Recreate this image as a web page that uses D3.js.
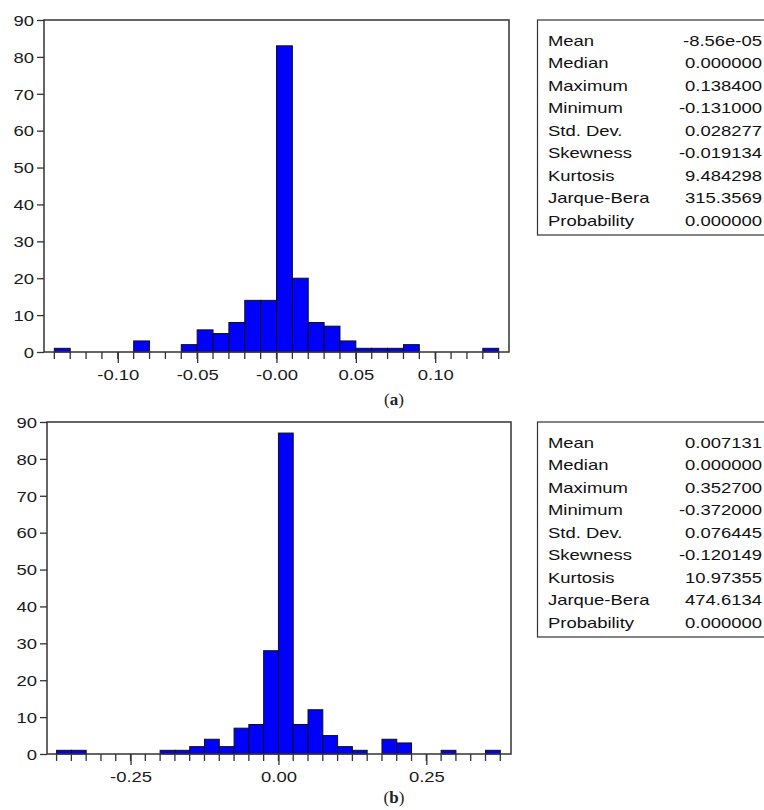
<!DOCTYPE html>
<html>
<head>
<meta charset="utf-8">
<script src="https://cdn.jsdelivr.net/npm/d3@7/dist/d3.min.js"></script>
<style>
  body { margin: 0; background: #fff; }
  svg { display: block; font-family: "Liberation Sans", Arial, sans-serif; }
</style>
</head>
<body>
<div id="chart"></div>
<script>
// histogram (a): bins of 0.01 starting at -0.14
var binStartA = -0.14, binWidthA = 0.01;
var countsA = [1, 0, 0, 0, 0, 3, 0, 0, 2, 6, 5, 8, 14, 14, 83, 20, 8, 7, 3, 1, 1, 1, 2, 0, 0, 0, 0, 1];
var tickValsA = [-0.10, -0.05, 0, 0.05, 0.10];
var tickLabelsA = ["-0.10", "-0.05", "-0.00", "0.05", "0.10"];

// histogram (b): bins of 0.025 starting at -0.375
var binStartB = -0.375, binWidthB = 0.025;
var countsB = [1, 1, 0, 0, 0, 0, 0, 1, 1, 2, 4, 2, 7, 8, 28, 87, 8, 12, 5, 2, 1, 0, 4, 3, 0, 0, 1, 0, 0, 1];
var tickValsB = [-0.25, 0, 0.25];
var tickLabelsB = ["-0.25", "0.00", "0.25"];

var yTicks = [0, 10, 20, 30, 40, 50, 60, 70, 80, 90];

var statLabels = ["Mean", "Median", "Maximum", "Minimum", "Std. Dev.", "Skewness", "Kurtosis", "Jarque-Bera", "Probability"];
var statsA = ["-8.56e-05", "0.000000", "0.138400", "-0.131000", "0.028277", "-0.019134", "9.484298", "315.3569", "0.000000"];
var statsB = ["0.007131", "0.000000", "0.352700", "-0.372000", "0.076445", "-0.120149", "10.97355", "474.6134", "0.000000"];

var SX = 1.23; // the original graph is stretched horizontally

var svg = d3.select("#chart").append("svg").attr("width", 764).attr("height", 810);

function histogram(cfg) {
  var x = d3.scaleLinear().domain(cfg.domain).range([cfg.left, cfg.right]);
  var y = d3.scaleLinear().domain([0, 90]).range([cfg.bottom, cfg.top]);
  var g = svg.append("g");

  var bins = cfg.counts.map(function(c, i) {
    return { x0: cfg.start + i * cfg.width, x1: cfg.start + (i + 1) * cfg.width, n: c };
  }).filter(function(d) { return d.n > 0; });

  g.selectAll("rect.bar").data(bins).enter().append("rect")
    .attr("class", "bar")
    .attr("x", function(d) { return x(d.x0); })
    .attr("width", function(d) { return x(d.x1) - x(d.x0); })
    .attr("y", function(d) { return y(d.n); })
    .attr("height", function(d) { return y(0) - y(d.n); })
    .attr("fill", "#0000ff")
    .attr("stroke", "#111")
    .attr("stroke-width", 1);

  // frame
  g.append("rect")
    .attr("x", cfg.left).attr("y", cfg.top)
    .attr("width", cfg.right - cfg.left).attr("height", cfg.bottom - cfg.top)
    .attr("fill", "none").attr("stroke", "#333").attr("stroke-width", 1.5);

  // y axis
  var yAxis = g.append("g").attr("transform", "translate(" + cfg.left + ",0)")
    .call(d3.axisLeft(y).tickValues(yTicks).tickSize(7).tickFormat(d3.format("d")));
  yAxis.select(".domain").remove();
  yAxis.selectAll("line").attr("stroke", "#333").attr("stroke-width", 1.3);
  yAxis.selectAll("text")
    .attr("x", 0).attr("dy", 0).attr("y", 0)
    .attr("transform", "translate(-10,5.3) scale(" + SX + ",1)")
    .attr("fill", "#1a1a1a").style("font-size", "15px");

  // x minor ticks, one per bin edge
  var n = cfg.counts.length;
  var edges = d3.range(n + 1).map(function(i) { return cfg.start + i * cfg.width; });
  g.selectAll("line.minor").data(edges).enter().append("line")
    .attr("class", "minor")
    .attr("x1", function(d) { return x(d); }).attr("x2", function(d) { return x(d); })
    .attr("y1", cfg.bottom).attr("y2", cfg.bottom + 7)
    .attr("stroke", "#333").attr("stroke-width", 1.3);

  var xAxis = g.append("g").attr("transform", "translate(0," + cfg.bottom + ")")
    .call(d3.axisBottom(x).tickValues(cfg.ticks).tickSize(11)
      .tickFormat(function(d, i) { return cfg.labels[i]; }));
  xAxis.select(".domain").remove();
  xAxis.selectAll("line").attr("stroke", "#333").attr("stroke-width", 1.3);
  xAxis.selectAll("text")
    .attr("y", 0).attr("dy", 0)
    .attr("transform", "translate(0,28) scale(" + SX + ",1)")
    .attr("fill", "#1a1a1a").style("font-size", "15px");

  // caption
  var cap = svg.append("text").attr("x", 394).attr("y", cfg.capY)
    .attr("text-anchor", "middle")
    .style("font-family", "'Liberation Serif', 'DejaVu Serif', serif")
    .style("font-size", "17px").attr("fill", "#222");
  cap.append("tspan").text("(");
  cap.append("tspan").attr("font-weight", "bold").text(cfg.caption);
  cap.append("tspan").text(")");
}

function statBox(values, top, bottom) {
  var g = svg.append("g");
  g.append("rect").attr("x", 537.5).attr("y", top)
    .attr("width", 240).attr("height", bottom - top)
    .attr("fill", "#fff").attr("stroke", "#333").attr("stroke-width", 1.2);
  var row = d3.scaleLinear().domain([0, 8]).range([top + 25.5, top + 205.5]);
  g.selectAll("text.lab").data(statLabels).enter().append("text")
    .attr("class", "lab")
    .attr("transform", function(d, i) { return "translate(548," + row(i) + ") scale(" + SX + ",1)"; })
    .style("font-size", "15px").attr("fill", "#111")
    .text(function(d) { return d; });
  g.selectAll("text.val").data(values).enter().append("text")
    .attr("class", "val")
    .attr("text-anchor", "end")
    .attr("transform", function(d, i) { return "translate(762," + row(i) + ") scale(" + SX + ",1)"; })
    .style("font-size", "15px").attr("fill", "#111")
    .text(function(d) { return d; });
}

histogram({
  counts: countsA, start: binStartA, width: binWidthA,
  domain: [-0.1465, 0.1465], left: 44, right: 509, top: 20, bottom: 352,
  ticks: tickValsA, labels: tickLabelsA, caption: "a", capY: 405
});
histogram({
  counts: countsB, start: binStartB, width: binWidthB,
  domain: [-0.3912, 0.3931], left: 47, right: 511, top: 422, bottom: 754,
  ticks: tickValsB, labels: tickLabelsB, caption: "b", capY: 803
});

statBox(statsA, 20, 235);
statBox(statsB, 422, 637);
</script>
</body>
</html>
